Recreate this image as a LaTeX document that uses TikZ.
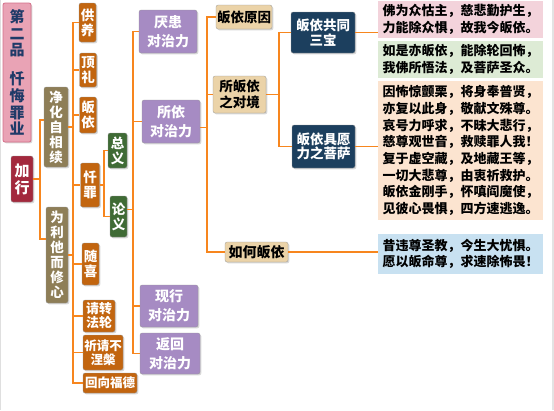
\documentclass[tikz,border=0pt]{standalone}
\usepackage{fontspec}
\setmainfont{Noto Sans CJK SC}
\usepackage{tikz}
\usetikzlibrary{positioning,shadows,calc}
\usepackage{xcolor}
\definecolor{linkor}{HTML}{F7861E}
\definecolor{titlepk}{HTML}{E9A3B5}
\definecolor{titleed}{HTML}{D46F89}
\definecolor{titletx}{HTML}{1F3A68}
\definecolor{jxred}{HTML}{A3283D}
\definecolor{xinbrn}{HTML}{8E7E57}
\definecolor{actor}{HTML}{C2650F}
\definecolor{yigreen}{HTML}{3F6B35}
\definecolor{forcepu}{HTML}{A68BC3}
\definecolor{refuge}{HTML}{EBD3A8}
\definecolor{jewel}{HTML}{1C3F5E}
\definecolor{vspink}{HTML}{F3D3DB}
\definecolor{vsgreen}{HTML}{DDEBD5}
\definecolor{vspeach}{HTML}{FCE4D0}
\definecolor{vsblue}{HTML}{C8E1F1}

\begin{document}
\begin{tikzpicture}[x=1pt, y=-1pt,
  box/.style={rounded corners=2pt, inner sep=0pt, align=center, text=white,
    draw=white!60!black, line width=0.3pt,
    drop shadow={shadow xshift=1.3pt, shadow yshift=-1.3pt, opacity=0.3}},
  vbox/.style={box, font=\fontsize{13.5}{15}\selectfont\bfseries},
  hbox/.style={box, font=\fontsize{14}{19}\selectfont\bfseries},
  verse/.style={inner sep=0pt, align=left, minimum width=165, text=black,
    font=\fontsize{13}{16.7}\selectfont\bfseries},
  link/.style={draw=linkor, line width=1.8pt}]
  \useasboundingbox (0,0) rectangle (554,410);
  \fill[white] (0,0) rectangle (554,410);
  \fill[gray!22] (552,0) rectangle (554,410);
  \draw[gray!25, line width=1pt] (0.5,0) -- (0.5,410);

  % left column
  \node[box, fill=titlepk, draw=titleed, line width=0.8pt, text=titletx,
    minimum width=28, minimum height=139, font=\fontsize{15}{16.7}\selectfont\bfseries]
    (pinming) at (17,72.5) {第\\二\\品\\[12pt]忏\\悔\\罪\\业};
  \node[vbox, fill=jxred, minimum width=22, minimum height=46,
    font=\fontsize{15}{17}\selectfont\bfseries] (jiaxing) at (22,179) {加\\行};
  \node[vbox, fill=xinbrn, minimum width=24, minimum height=80] (jinghua) at (56,127) {净\\化\\自\\相\\续};
  \node[vbox, fill=xinbrn, minimum width=22, minimum height=96] (weili) at (57,255) {为\\利\\他\\而\\修\\心};

  % seven branches
  \node[vbox, fill=actor, minimum width=17, minimum height=39] (gongyang) at (87.5,22.5) {供\\养};
  \node[vbox, fill=actor, minimum width=17, minimum height=34] (dingli) at (88,70) {顶\\礼};
  \node[vbox, fill=actor, minimum width=17, minimum height=36] (guiyi) at (88,115) {皈\\依};
  \node[vbox, fill=actor, minimum width=19, minimum height=44] (chanzui) at (90,185) {忏\\罪};
  \node[vbox, fill=actor, minimum width=17, minimum height=42] (suixi) at (90.5,264) {随\\喜};
  \node[hbox, fill=actor, minimum width=32, minimum height=32,
    font=\fontsize{13}{14}\selectfont\bfseries] (qingzhuan) at (99,316) {请转\\法轮};
  \node[hbox, fill=actor, minimum width=40, minimum height=35,
    font=\fontsize{12.5}{14}\selectfont\bfseries] (qiqing) at (103,352.5) {祈请不\\涅槃};
  \node[hbox, fill=actor, minimum width=54, minimum height=20,
    font=\fontsize{12.5}{14}\selectfont\bfseries] (huixiang) at (110,383) {回向福德};

  \node[vbox, fill=yigreen, minimum width=19, minimum height=35] (zongyi) at (117.5,150.5) {总\\义};
  \node[vbox, fill=yigreen, minimum width=17, minimum height=41] (lunyi) at (118.5,216.5) {论\\义};

  % four powers
  \node[hbox, fill=forcepu, minimum width=58, minimum height=43] (yanhuan) at (168,31.5) {厌患\\对治力};
  \node[hbox, fill=forcepu, minimum width=58, minimum height=43] (suoyi) at (171,121.5) {所依\\对治力};
  \node[hbox, fill=forcepu, minimum width=58, minimum height=42] (xianxing) at (169,306) {现行\\对治力};
  \node[hbox, fill=forcepu, minimum width=60, minimum height=41] (fanhui) at (170,353.5) {返回\\对治力};

  \node[hbox, fill=refuge, text=black, minimum width=56, minimum height=24,
    font=\fontsize{13.5}{15}\selectfont\bfseries] (yuanyin) at (244,17) {皈依原因};
  \node[hbox, fill=refuge, text=black, minimum width=53, minimum height=37,
    font=\fontsize{13.5}{16}\selectfont\bfseries] (duijing) at (239.5,94.5) {所皈依\\之对境};
  \node[hbox, fill=refuge, text=black, minimum width=63, minimum height=20] (ruhe) at (256.5,252) {如何皈依};

  \node[hbox, fill=jewel, minimum width=64, minimum height=41,
    font=\fontsize{13.5}{14.5}\selectfont\bfseries] (sanbao) at (323,32.5) {皈依共同\\三宝};
  \node[hbox, fill=jewel, minimum width=63, minimum height=43,
    font=\fontsize{13.5}{14.5}\selectfont\bfseries] (pusa) at (323.5,146.5) {皈依具愿\\力之菩萨};

  % verses
  \node[verse, fill=vspink, minimum height=37] (vsanbao) at (460.5,19.5)
    {佛为众怙主，慈悲勤护生，\\力能除众惧，故我今皈依。};
  \node[verse, fill=vsgreen, minimum height=37] (vfa) at (460.5,59.5)
    {如是亦皈依，能除轮回怖，\\我佛所悟法，及菩萨圣众。};
  \node[verse, fill=vspeach, minimum height=139] (vpusa) at (460.5,150.5)
    {因怖惊颤栗，将身奉普贤，\\亦复以此身，敬献文殊尊。\\哀号力呼求，不昧大悲行，\\慈尊观世音，救赎罪人我！\\复于虚空藏，及地藏王等，\\一切大悲尊，由衷祈救护。\\皈依金刚手，怀嗔阎魔使，\\见彼心畏惧，四方速逃逸。};
  \node[verse, fill=vsblue, minimum height=40] (vruhe) at (460.5,254)
    {昔违尊圣教，今生大忧惧。\\愿以皈命尊，求速除怖畏！};

  % connectors
  \draw[link] (jiaxing.east) -- ++(7,0) |- ([yshift=7pt]jinghua.west);
  \draw[link] (jiaxing.east) -- ++(7,0) |- ([yshift=16pt]weili.west);
  \draw[link] (jinghua.east) -- ++(5,0) coordinate (jbus);
  \foreach \c in {gongyang,dingli,guiyi,chanzui,suixi,qingzhuan,qiqing,huixiang}
    \draw[link] (jbus) |- (\c.west);
  \draw[link] (weili.east) -- (weili.east -| jbus);
  \foreach \c in {zongyi,lunyi}
    \draw[link] (chanzui.east) -- ++(4,0) |- (\c.west);
  \foreach \c in {yanhuan,suoyi,xianxing,fanhui}
    \draw[link] ([yshift=7pt]lunyi.east) -- ++(6,0) |- (\c.west);
  \foreach \c in {yuanyin,duijing,ruhe}
    \draw[link] ([yshift=-6pt]suoyi.east) -- ++(7,0) |- (\c.west);
  \foreach \c in {sanbao,pusa}
    \draw[link] (duijing.east) -- ++(13,0) |- (\c.west);
  \draw[link] (sanbao.east) -- (sanbao.east -| vsanbao.west);
  \draw[link] (pusa.east) -- (pusa.east -| vpusa.west);
  \draw[link] (ruhe.east) -- (ruhe.east -| vruhe.west);
\end{tikzpicture}
\end{document}
